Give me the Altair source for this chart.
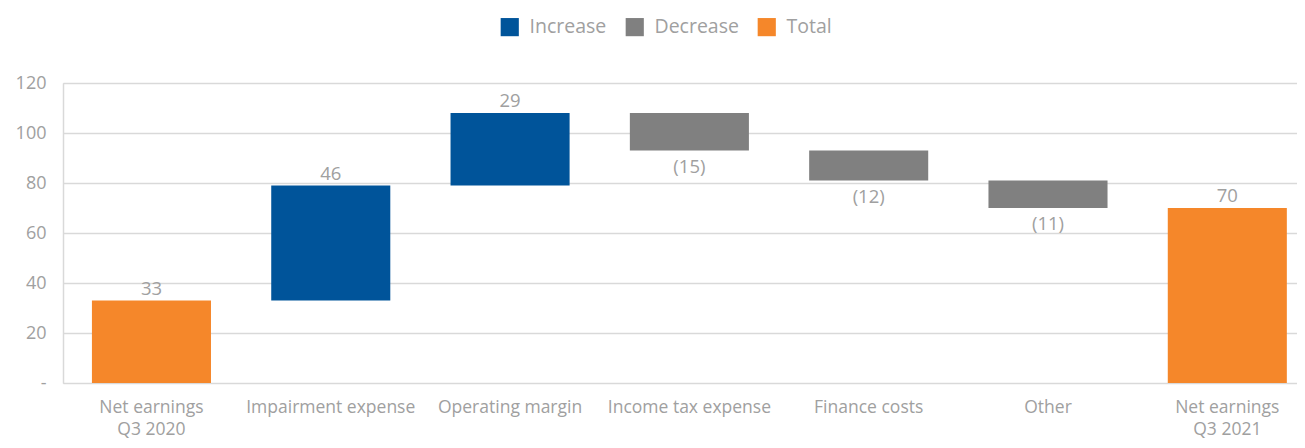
import altair as alt
import pandas as pd

categories = ["Net earnings\nQ3 2020", "Impairment expense", "Operating margin",
              "Income tax expense", "Finance costs", "Other", "Net earnings\nQ3 2021"]
changes = [33, 46, 29, -15, -12, -11, 70]
kinds = ["Total", "Increase", "Increase", "Decrease", "Decrease", "Decrease", "Total"]

rows = []
running = 0
for cat, val, kind in zip(categories, changes, kinds):
    if kind == "Total":
        start, end = 0, val
        running = val
    else:
        start, end = running, running + val
        running = end
    label = f"({abs(val)})" if val < 0 else f"{val}"
    rows.append({"cat": cat, "start": start, "end": end, "kind": kind,
                 "label": label, "top": max(start, end), "bottom": min(start, end),
                 "neg": val < 0})
df = pd.DataFrame(rows)

FONT = "Open Sans"
GREY = "#a0a0a0"

x = alt.X("cat:N", sort=categories, title=None,
          scale=alt.Scale(paddingInner=0.336, paddingOuter=0.109, align=0.74),
          axis=alt.Axis(labelAngle=0, ticks=False, domain=False, grid=False,
                        labelExpr="split(datum.label, '\\n')",
                        labelFont=FONT, labelFontSize=17.5, labelColor=GREY,
                        labelPadding=15, labelLineHeight=22, labelBaseline="top"))

bars = alt.Chart(df).mark_bar().encode(
    x=x,
    y=alt.Y("start:Q", title=None,
            scale=alt.Scale(domain=[0, 120], nice=False),
            axis=alt.Axis(values=[0, 20, 40, 60, 80, 100, 120],
                          labelExpr="datum.value == 0 ? '-' : datum.label",
                          ticks=False, domain=True, domainColor="#d9d9d9", domainWidth=1.5,
                          gridColor="#d9d9d9", gridWidth=1.5,
                          labelFont=FONT, labelFontSize=18, labelColor=GREY,
                          labelPadding=17)),
    y2="end:Q",
    color=alt.Color("kind:N",
                    scale=alt.Scale(domain=["Increase", "Decrease", "Total"],
                                    range=["#00549a", "#808080", "#f5872a"]),
                    legend=alt.Legend(title=None, orient="none", direction="horizontal",
                                      legendX=437, legendY=-66,
                                      symbolType="square", symbolSize=330,
                                      symbolStrokeWidth=0, symbolOpacity=1,
                                      labelFont=FONT, labelFontSize=19.5, labelColor=GREY,
                                      labelOffset=10, columnPadding=18)),
)

up = alt.Chart(df[~df["neg"]]).mark_text(baseline="bottom", dy=-2, font=FONT,
                                          fontSize=18.5, color=GREY).encode(
    x=alt.X("cat:N", sort=categories), y="top:Q", text="label:N")

down = alt.Chart(df[df["neg"]]).mark_text(baseline="top", dy=7, font=FONT,
                                           fontSize=18.5, color=GREY).encode(
    x=alt.X("cat:N", sort=categories), y="bottom:Q", text="label:N")

chart = alt.layer(bars, up, down).properties(
    width=1234, height=300,
    autosize=alt.AutoSizeParams(type="none"),
    padding={"left": 55, "top": 75, "right": 0, "bottom": 57},
).configure_view(stroke=None).configure(background="white")

chart.save("out.html", embed_options={"renderer": "svg", "actions": False})
